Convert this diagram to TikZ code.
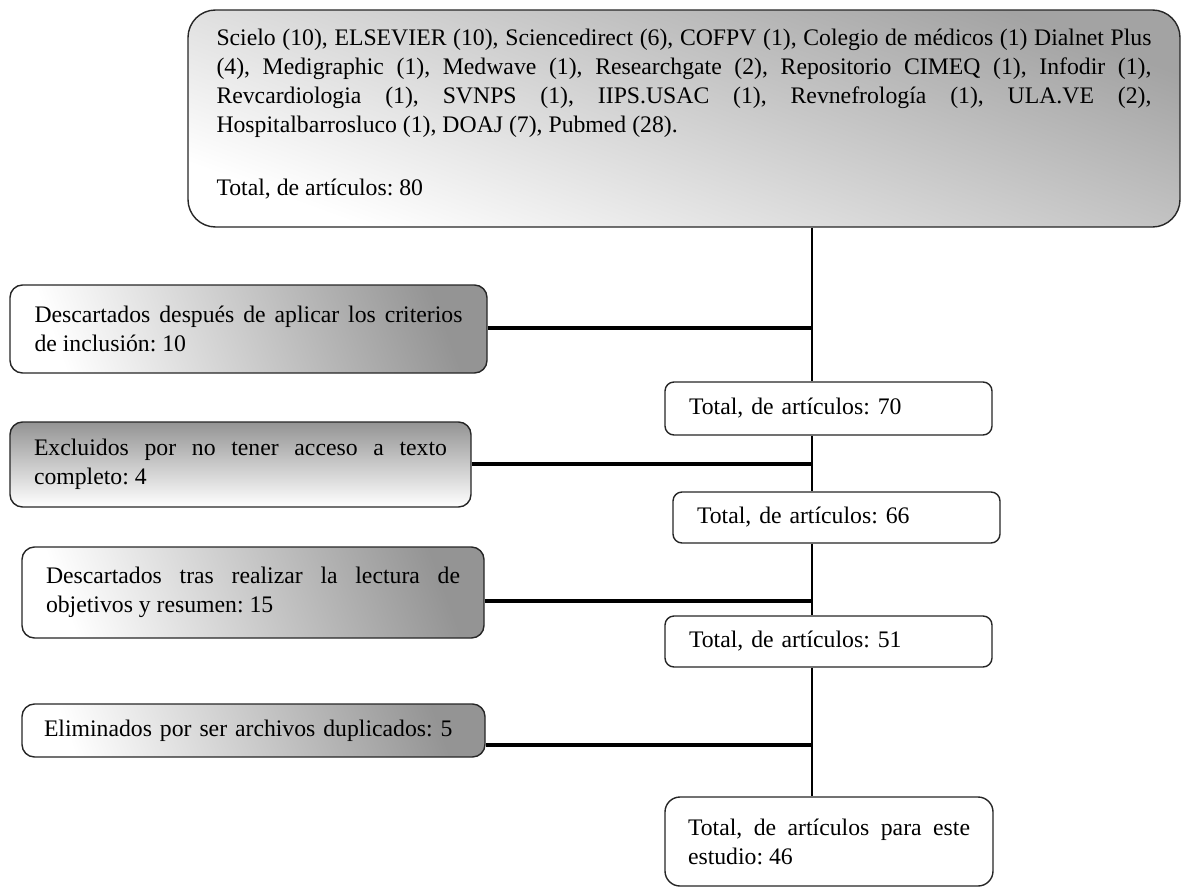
\documentclass[tikz,border=0pt]{standalone}
\usepackage{fontspec}
\setmainfont{Liberation Serif}
\frenchspacing
\tikzstyle{sourcebox} = [rectangle, rounded corners=0.55cm, draw=black!85, line width=0.8pt, minimum width=19.84cm, minimum height=4.34cm, text width=18.7cm, align=justify, font=\fontsize{13.5}{16.5}\selectfont, top color=black!36, bottom color=white, shading angle=-20]
\tikzstyle{dropbox} = [rectangle, rounded corners=0.25cm, draw=black!85, line width=0.8pt, align=justify, font=\fontsize{13.5}{16.5}\selectfont, top color=black!42, bottom color=white, shading angle=-70]
\tikzstyle{totalbox} = [rectangle, rounded corners=0.18cm, draw=black!85, line width=0.8pt, fill=white, minimum width=6.54cm, text width=5.58cm, align=left, font=\fontsize{13.5}{16.5}\selectfont]
\tikzstyle{spine} = [line width=1.5pt]
\tikzstyle{branch} = [line width=2.3pt]

\begin{document}
\begin{tikzpicture}
    \useasboundingbox (0,0) rectangle (23.62,-17.72);
    \node [sourcebox] at (13.68,-2.37) (src) {Scielo (10), ELSEVIER (10), Sciencedirect (6), COFPV (1), Colegio de médicos (1) Dialnet Plus\linebreak (4), Medigraphic (1), Medwave (1), Researchgate (2), Repositorio CIMEQ (1), Infodir (1),\linebreak Revcardiologia (1), SVNPS (1), IIPS.USAC (1), Revnefrología (1), ULA.VE (2),\linebreak Hospitalbarrosluco (1), DOAJ (7), Pubmed (28).\\[19pt]Total, de artículos: 80\rule[-7pt]{0pt}{0pt}};
    \node [dropbox, minimum width=9.54cm, minimum height=1.76cm, text width=8.56cm] at (4.97,-6.58) (d1) {Descartados después de aplicar los criterios\linebreak de inclusión: 10};
    \node [dropbox, shading angle=0, minimum width=9.22cm, minimum height=1.70cm, text width=8.26cm] at (4.81,-9.29) (d2) {Excluidos por no tener acceso a texto\linebreak completo: 4};
    \node [dropbox, minimum width=9.24cm, minimum height=1.82cm, text width=8.28cm] at (5.06,-11.85) (d3) {Descartados tras realizar la lectura de\linebreak objetivos y resumen: 15};
    \node [dropbox, minimum width=9.26cm, minimum height=1.06cm, text width=8.38cm, align=left] at (5.07,-14.61) (d4) {Eliminados por ser archivos duplicados: 5};
    \node [totalbox, minimum height=1.06cm] at (16.57,-8.17) (r1) {Total, de artículos: 70};
    \node [totalbox, minimum height=1.02cm] at (16.73,-10.35) (r2) {Total, de artículos: 66};
    \node [totalbox, minimum height=1.02cm] at (16.57,-12.83) (r3) {Total, de artículos: 51};
    \node [totalbox, rounded corners=0.3cm, minimum width=6.56cm, minimum height=1.78cm, text width=5.64cm, align=justify] at (16.58,-16.83) (r4) {Total, de artículos para este\linebreak estudio: 46};
    % junctions on the main line
    \coordinate (j1) at (16.24,-6.56);
    \coordinate (j2) at (16.24,-9.28);
    \coordinate (j3) at (16.24,-12.02);
    \coordinate (j4) at (16.24,-14.9);
    \draw [spine] (src.south -| j1) -- (r1.north -| j1);
    \draw [spine] (r1.south -| j1) -- (r2.north -| j1);
    \draw [spine] (r2.south -| j1) -- (r3.north -| j1);
    \draw [spine] (r3.south -| j1) -- (r4.north -| j1);
    \draw [branch] (d1.east |- j1) -- (j1);
    \draw [branch] (d2.east |- j2) -- (j2);
    \draw [branch] (d3.east |- j3) -- (j3);
    \draw [branch] (d4.east |- j4) -- (j4);
\end{tikzpicture}
\end{document}
